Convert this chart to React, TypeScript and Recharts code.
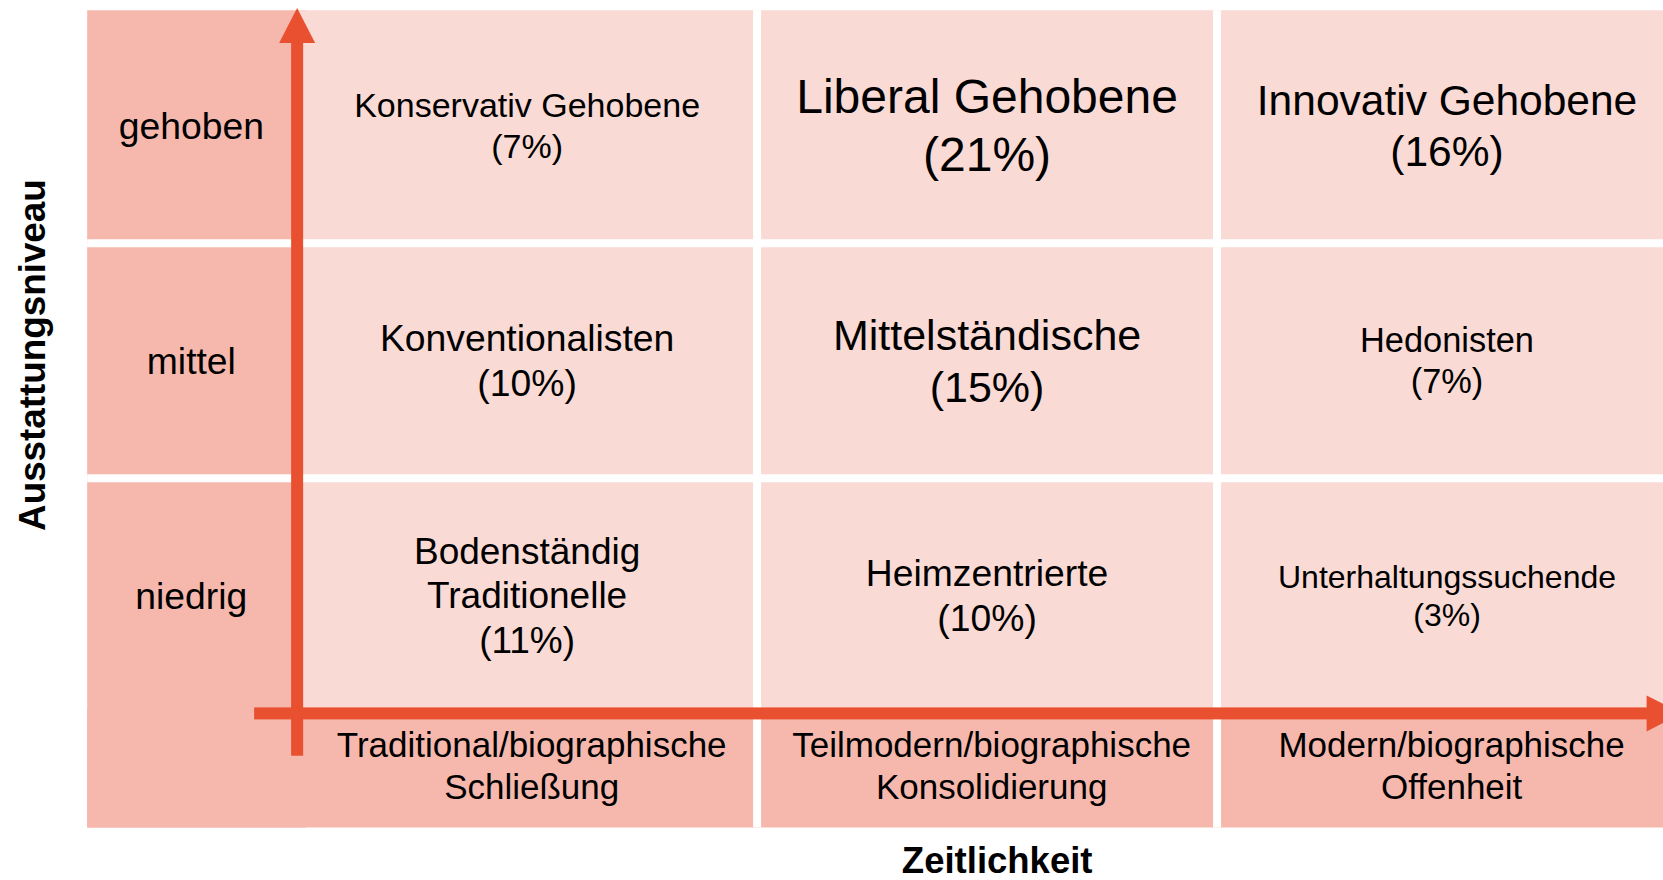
import React from 'react';
import { ScatterChart, Scatter, XAxis, YAxis, ReferenceArea, ReferenceLine } from 'recharts';

// rows from bottom to top, columns from left to right
const rowLabels = ['niedrig', 'mittel', 'gehoben'];
const columnLabels = [
  ['Traditional/biographische', 'Schließung'],
  ['Teilmodern/biographische', 'Konsolidierung'],
  ['Modern/biographische', 'Offenheit'],
];
const segmentNames = [
  ['Bodenständig', 'Traditionelle'],
  ['Heimzentrierte'],
  ['Unterhaltungssuchende'],
  ['Konventionalisten'],
  ['Mittelständische'],
  ['Hedonisten'],
  ['Konservativ Gehobene'],
  ['Liberal Gehobene'],
  ['Innovativ Gehobene'],
];
const segmentShares = [11, 10, 3, 10, 15, 7, 7, 21, 16];
const xTitle = 'Zeitlichkeit';
const yTitle = 'Ausstattungsniveau';

// styling
const segmentFontSizes = [37, 37.3, 32, 37.3, 43, 34.4, 34, 48, 42.5];
const LIGHT = '#FADAD4';
const DARK = '#F6B8AD';
const ARROW = '#E8502F';
const FONT = '"Liberation Sans", Arial, sans-serif';

// layout in axis units (one cell = 1 x 1)
const W = 1700;
const H = 880;
const X_MIN = -0.646;
const X_MAX = 3;
const Y_MIN = -0.7;
const Y_MAX = 3;
const LABEL_LEFT = -0.4565;
const GRID_TOP = 2.99;
const GRID_BOTTOM = -0.485;

const cols = [0, 1, 2];
const rows = [0, 1, 2];

const segmentData = segmentNames.map((name, i) => ({
  x: (i % 3) + 0.5,
  y: Math.floor(i / 3) + 0.5,
  lines: [...name, `(${segmentShares[i]}%)`],
  fontSize: segmentFontSizes[i],
}));
const rowLabelData = rowLabels.map((label, r) => ({ x: -0.23, y: r + 0.5, lines: [label], fontSize: 37.3 }));
const columnLabelData = columnLabels.map((label, c) => ({ x: c + 0.51, y: -0.22, lines: label, fontSize: 35 }));
const titleData = [
  { x: 1.522, y: -0.625, lines: [xTitle], fontSize: 36.5, bold: true, rotate: false },
  { x: -0.576, y: 1.524, lines: [yTitle], fontSize: 36.8, bold: true, rotate: true },
];

const TextBlock = (props: any) => {
  const { cx, cy, payload } = props;
  const { lines, fontSize, bold, rotate } = payload;
  const lh = fontSize * 1.2;
  const n = lines.length;
  return (
    <g transform={rotate ? `rotate(-90 ${cx} ${cy})` : undefined}>
      {lines.map((t: string, i: number) => (
        <text
          key={i}
          x={cx}
          y={cy + (i - (n - 1) / 2) * lh}
          textAnchor="middle"
          dominantBaseline="central"
          fontSize={fontSize}
          fontFamily={FONT}
          fontWeight={bold ? 700 : 400}
          fill="#000"
        >
          {t}
        </text>
      ))}
    </g>
  );
};

const UpArrow = (p: any) => {
  const head = 35;
  return (
    <g>
      <rect x={p.x1 - 6} y={p.y2 + head - 1} width={12} height={p.y1 - p.y2 - head + 1} fill={ARROW} />
      <polygon points={`${p.x2},${p.y2} ${p.x2 - 18},${p.y2 + head} ${p.x2 + 18},${p.y2 + head}`} fill={ARROW} />
    </g>
  );
};

const RightArrow = (p: any) => {
  const head = 35;
  return (
    <g>
      <rect x={p.x1} y={p.y1 - 6} width={p.x2 - p.x1 - head + 1} height={12} fill={ARROW} />
      <polygon points={`${p.x2},${p.y2} ${p.x2 - head},${p.y2 - 18} ${p.x2 - head},${p.y2 + 18}`} fill={ARROW} />
    </g>
  );
};

export default function App() {
  return (
    <div style={{ position: 'absolute', left: 0, top: 0, width: 1663, height: 880, overflow: 'hidden', background: '#fff' }}>
      <ScatterChart width={W} height={H} margin={{ top: 8, right: 23, bottom: 2, left: 0 }}>
        <XAxis type="number" dataKey="x" domain={[X_MIN, X_MAX]} hide allowDataOverflow />
        <YAxis type="number" dataKey="y" domain={[Y_MIN, Y_MAX]} hide allowDataOverflow />

        {/* row label column */}
        {rows.map((r) => (
          <ReferenceArea
            key={`row-${r}`}
            x1={LABEL_LEFT}
            x2={0.02}
            y1={r === 0 ? GRID_BOTTOM : r}
            y2={r === 2 ? GRID_TOP : r + 1}
            fill={DARK}
            fillOpacity={1}
            stroke="none"
            ifOverflow="visible"
          />
        ))}
        {/* segment cells */}
        {rows.map((r) =>
          cols.map((c) => (
            <ReferenceArea
              key={`cell-${r}-${c}`}
              x1={c}
              x2={c + 1}
              y1={r}
              y2={r === 2 ? GRID_TOP : r + 1}
              fill={LIGHT}
              fillOpacity={1}
              stroke="none"
              ifOverflow="visible"
            />
          ))
        )}
        {/* column label row */}
        {cols.map((c) => (
          <ReferenceArea
            key={`col-${c}`}
            x1={c === 0 ? LABEL_LEFT : c}
            x2={c + 1}
            y1={GRID_BOTTOM}
            y2={0.02}
            fill={DARK}
            fillOpacity={1}
            stroke="none"
            ifOverflow="visible"
          />
        ))}

        {/* white gaps between cells */}
        {[1, 2].map((v) => (
          <ReferenceLine
            key={`gx-${v}`}
            segment={[{ x: v, y: GRID_BOTTOM }, { x: v, y: GRID_TOP }]}
            stroke="#fff"
            strokeWidth={8}
            ifOverflow="visible"
          />
        ))}
        {[1, 2].map((v) => (
          <ReferenceLine
            key={`gy-${v}`}
            segment={[{ x: LABEL_LEFT, y: v }, { x: X_MAX, y: v }]}
            stroke="#fff"
            strokeWidth={8}
            ifOverflow="visible"
          />
        ))}

        {/* axes arrows */}
        <ReferenceLine segment={[{ x: 0, y: -0.18 }, { x: 0, y: 3 }]} shape={UpArrow} ifOverflow="visible" />
        <ReferenceLine segment={[{ x: -0.0935, y: 0 }, { x: 3.01, y: 0 }]} shape={RightArrow} ifOverflow="visible" />

        <Scatter data={segmentData} shape={TextBlock} isAnimationActive={false} />
        <Scatter data={rowLabelData} shape={TextBlock} isAnimationActive={false} />
        <Scatter data={columnLabelData} shape={TextBlock} isAnimationActive={false} />
        <Scatter data={titleData} shape={TextBlock} isAnimationActive={false} />
      </ScatterChart>
    </div>
  );
}
